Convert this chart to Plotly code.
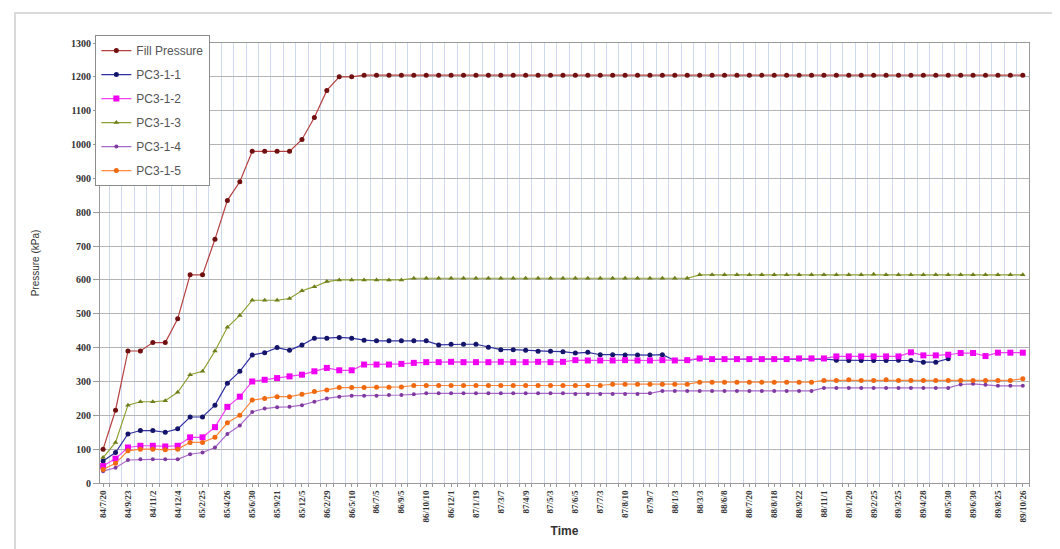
import plotly.graph_objects as go

tick_labels = ["84/7/20", "84/9/23", "84/11/2", "84/12/4", "85/2/25", "85/4/26", "85/6/30",
               "85/9/21", "85/12/5", "86/2/29", "86/5/10", "86/7/5", "86/9/5", "86/10/10",
               "86/12/1", "87/1/19", "87/3/7", "87/4/9", "87/5/3", "87/6/5", "87/7/3",
               "87/8/10", "87/9/7", "88/1/3", "88/3/3", "88/6/8", "88/7/20", "88/8/18",
               "88/9/22", "88/11/1", "89/1/20", "89/2/25", "89/3/25", "89/4/28", "89/5/30",
               "89/6/30", "89/8/25", "89/10/26"]

fill_pressure = [100, 215, 390, 390, 415, 415, 485, 615, 615, 720, 835, 890, 980, 980, 980, 980,
                 1015, 1080, 1160, 1200, 1200] + [1205] * 54

pc3_1_1 = [65, 90, 145, 155, 155, 150, 160, 195, 195, 230, 295, 330, 378, 385, 400, 392, 408, 428,
           428, 430, 428, 422, 420, 420, 420, 420, 420, 408, 410, 410, 410, 401, 394, 394, 392, 389,
           389, 388, 384, 386, 379, 379, 378, 378, 378, 379, 362, 362, 367, 365, 365, 365, 365, 365,
           365, 365, 367, 367, 367, 363, 362, 362, 362, 362, 363, 362, 357, 357, 367,
           None, None, None, None, None, None]

pc3_1_2 = [50, 72, 105, 110, 110, 108, 110, 135, 135, 165, 225, 255, 300, 305, 310, 315, 320, 330,
           340, 333, 333, 350, 350, 350, 352, 355, 357, 357, 358, 357, 357, 357, 358, 357, 357, 358,
           357, 358, 363, 362, 362, 362, 363, 362, 362, 363, 362, 363, 368, 366, 366, 366, 366, 366,
           366, 366, 368, 368, 368, 374, 374, 374, 374, 374, 374, 386, 377, 377, 379, 384, 384, 375,
           385, 385, 385]

pc3_1_3 = [75, 120, 230, 240, 240, 243, 268, 320, 330, 390, 460, 495, 540, 540, 540, 545, 568, 580,
           595, 600, 600, 600, 600, 600, 600] + [605] * 23 + [615] * 14 + [617] + [615] * 12

pc3_1_4 = [35, 45, 68, 70, 70, 70, 70, 85, 90, 105, 145, 170, 210, 220, 224, 225, 230, 240, 250, 255,
           258, 258, 258, 260, 260, 262, 265, 265, 265, 265, 265, 265, 265, 265, 265, 265, 265, 265,
           263, 263, 263, 263, 263, 263, 265, 272, 272, 272, 272, 272, 272, 272, 272, 272, 272, 272,
           272, 272, 281, 281, 281, 281, 281, 281, 281, 281, 281, 281, 281, 291, 293, 290, 287, 287,
           287]

pc3_1_5 = [40, 58, 95, 100, 100, 98, 100, 120, 120, 135, 178, 200, 245, 250, 255, 255, 262, 270, 275,
           282, 282, 282, 283, 283, 284] + [288] * 16 + [292] * 7 + [298] * 10 + \
          [303, 303, 305, 303, 303, 305, 303, 303, 303, 303, 303, 303, 303, 303, 303, 303, 308]

n = len(fill_pressure)
x = list(range(n))
tick_vals = list(range(0, n, 2))

series = [
    ("Fill Pressure", fill_pressure, "#B5403F", "#701010", "circle", 5),
    ("PC3-1-1", pc3_1_1, "#3030A0", "#14146A", "circle", 5),
    ("PC3-1-2", pc3_1_2, "#F040F0", "#F000F0", "square", 6),
    ("PC3-1-3", pc3_1_3, "#8E9E30", "#6E7E1A", "triangle-up", 5),
    ("PC3-1-4", pc3_1_4, "#A868C8", "#7E3A9E", "circle", 4),
    ("PC3-1-5", pc3_1_5, "#FF8A3D", "#F06810", "circle", 5),
]

fig = go.Figure()
for i, (name, vals, lc, mc, sym, ms) in enumerate(series):
    fig.add_trace(go.Scatter(
        x=x, y=vals, name=name, mode="lines+markers",
        line=dict(color=lc, width=1.2),
        marker=dict(color=mc, symbol=sym, size=ms, line=dict(width=0)),
        legendgroup=f"g{i}",
    ))

axis_font = dict(family="Liberation Serif", size=9, color="#333333", weight="bold")

fig.update_layout(
    width=1060, height=549,
    margin=dict(l=92, r=39, t=35, b=74),
    paper_bgcolor="white", plot_bgcolor="white",
    showlegend=True,
    legend=dict(
        x=-0.005, y=1.018, xanchor="left", yanchor="top",
        bgcolor="white", bordercolor="#8C8C8C", borderwidth=1,
        font=dict(family="Liberation Sans", size=12, color="#555555"),
        tracegroupgap=5, traceorder="grouped",
        itemwidth=30,
    ),
    xaxis=dict(
        range=[-0.25, n - 0.5],
        tickmode="array", tickvals=tick_vals, ticktext=tick_labels,
        tickangle=-90, tickfont=axis_font,
        showgrid=False, zeroline=False,
        showline=True, mirror=True, linecolor="#9A9A9A", linewidth=1,
        ticks="outside", ticklen=3, tickcolor="#9A9A9A",
        minor=dict(tickmode="linear", tick0=0.5, dtick=1, showgrid=True,
                   gridcolor="#CFD9F0", gridwidth=1, ticks="outside", ticklen=3,
                   tickcolor="#9A9A9A"),
        title=dict(text="Time", font=dict(family="Liberation Sans", size=12,
                                          color="#333333", weight="bold"), standoff=4),
        automargin=False,
    ),
    yaxis=dict(
        range=[0, 1300], tickmode="linear", tick0=0, dtick=100,
        tickfont=dict(family="Liberation Serif", size=10, color="#333333", weight="bold"),
        showgrid=True, gridcolor="#B4B4B4", gridwidth=1, zeroline=False,
        showline=True, mirror=True, linecolor="#9A9A9A", linewidth=1,
        ticks="outside", ticklen=6, tickcolor="#9A9A9A",
        title=dict(text="Pressure (kPa)", font=dict(family="Liberation Sans", size=10,
                                                    color="#333333"), standoff=29),
        automargin=False,
    ),
    shapes=[dict(type="rect", xref="paper", yref="paper",
                 x0=-0.0915, x1=1.0377, y0=-0.152, y1=1.068,
                 line=dict(color="#DADADA", width=2), layer="below")],
)

fig.write_html("out.html")
